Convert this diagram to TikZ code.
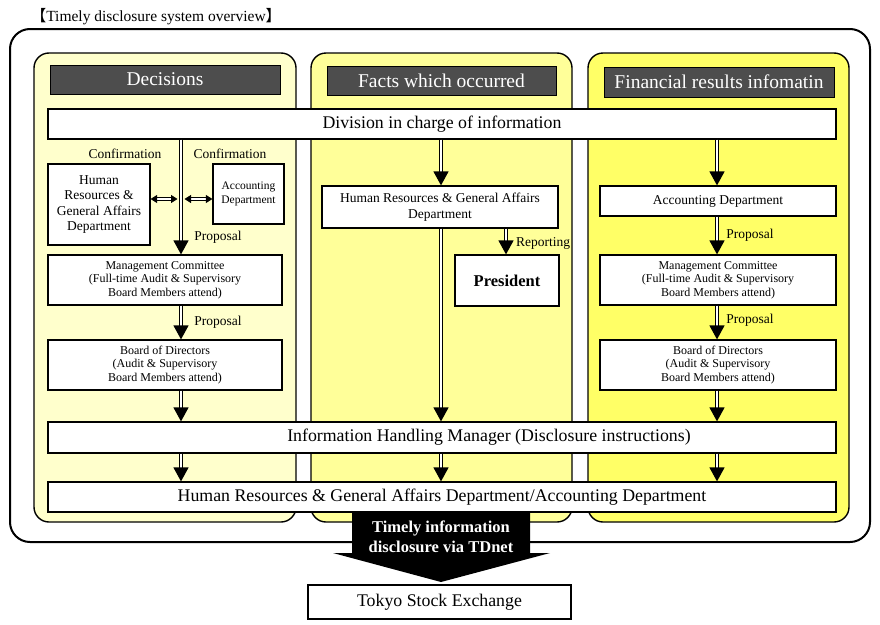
\documentclass[tikz,border=0pt]{standalone}
\usepackage{fontspec}
\setmainfont{Liberation Serif}
\newfontfamily\cjk{Noto Sans CJK JP}
\usetikzlibrary{arrows.meta,calc}
\definecolor{colA}{HTML}{FFFFCC}
\definecolor{colB}{HTML}{FFFF99}
\definecolor{colC}{HTML}{FFFF66}
\definecolor{hdr}{HTML}{4D4D4D}
\begin{document}
\begin{tikzpicture}[x=1pt,y=-1pt,
  column/.style={draw=black, line width=1.4pt, rounded corners=15pt},
  hdrbox/.style={draw=black, line width=0.8pt, fill=hdr, text=white, font=\fontsize{19.5}{21}\selectfont, inner sep=0pt},
  box/.style={draw=black, line width=1.2pt, fill=white, inner sep=1pt, align=center},
  big/.style={font=\fontsize{17.8}{20}\selectfont},
  mid/.style={font=\fontsize{13.5}{15.5}\selectfont},
  small/.style={font=\fontsize{12}{13.5}\selectfont},
  lbl/.style={font=\fontsize{13.5}{15}\selectfont, inner sep=0pt},
  dbl/.style={double distance=1.8pt, line width=1.3pt, -{Triangle[width=15pt,length=14pt]}},
  dbltwo/.style={double distance=1.6pt, line width=0.9pt, {Triangle[width=8pt,length=6.5pt]}-{Triangle[width=8pt,length=6.5pt]}}
]
\useasboundingbox (0,0) rectangle (880,624);
\fill[white] (0,0) rectangle (880,624);

% title
\node[font=\fontsize{15.5}{17}\selectfont, inner sep=0pt] (title) at (156,17) {{\cjk 【}Timely disclosure system overview{\cjk 】}};

% outer frame
\draw[line width=2pt, rounded corners=20pt] (10,29) rectangle (870,542);

% columns
\draw[column, fill=colA] (34,53) rectangle (296,522);
\draw[column, fill=colB] (311,53) rectangle (572,522);
\draw[column, fill=colC] (588,53) rectangle (849,522);

% headers
\node[hdrbox, minimum width=230, minimum height=29] (h1) at (165,79.5) {Decisions};
\node[hdrbox, minimum width=229, minimum height=29] (h2) at (441.5,80.5) {Facts which occurred};
\node[hdrbox, minimum width=230, minimum height=30] (h3) at (719,82) {Financial results infomatin};

% wide boxes
\node[box, big, minimum width=788, minimum height=30] (div) at (442,124) {Division in charge of information};
\node[box, big, minimum width=788, minimum height=31] (ihm) at (442,437.5) {\hspace*{94pt}Information Handling Manager (Disclosure instructions)};
\node[box, big, minimum width=788, minimum height=30] (bot) at (442,497) {Human Resources \& General Affairs Department/Accounting Department};

% left column
\node[box, mid, minimum width=102, minimum height=81] (hr1) at (99,204.5) {Human\\Resources \&\\General Affairs\\Department};
\node[box, font=\fontsize{11.5}{13.5}\selectfont, minimum width=71, minimum height=60] (acc1) at (248.5,194) {Accounting\\Department};
\node[box, small, minimum width=234, minimum height=50] (mc1) at (165,280) {Management Committee\\(Full-time Audit \& Supervisory\\Board Members attend)};
\node[box, small, minimum width=234, minimum height=50] (bd1) at (165,365) {Board of Directors\\(Audit \& Supervisory\\Board Members attend)};

% middle column
\node[box, mid, minimum width=236, minimum height=42] (hr2) at (440,207) {Human Resources \& General Affairs\\Department};
\node[box, font=\bfseries\fontsize{16.5}{18}\selectfont, minimum width=104, minimum height=51] (pres) at (507,280.5) {President};

% right column
\node[box, mid, minimum width=236, minimum height=30] (acc3) at (718,201) {Accounting Department};
\node[box, small, minimum width=236, minimum height=50] (mc3) at (718,280) {Management Committee\\(Full-time Audit \& Supervisory\\Board Members attend)};
\node[box, small, minimum width=236, minimum height=50] (bd3) at (718,365) {Board of Directors\\(Audit \& Supervisory\\Board Members attend)};

% arrow x positions
\coordinate (L) at (181,0);
\coordinate (M) at (441,0);
\coordinate (P) at (506,0);
\coordinate (R) at (717,0);

% left arrows
\draw[dbl] (L |- div.south) -- (L |- mc1.north);
\draw[dbl] (L |- mc1.south) -- (L |- bd1.north);
\draw[dbl] (L |- bd1.south) -- (L |- ihm.north);
\draw[dbl] (L |- ihm.south) -- (L |- bot.north);
\coordinate (cl) at (177.5,199);
\coordinate (cr) at (184.5,199);
\draw[dbltwo] (hr1.east |- cl) -- (cl);
\draw[dbltwo] (cr) -- (acc1.west |- cr);

% middle arrows
\draw[dbl] (M |- div.south) -- (M |- hr2.north);
\draw[dbl] (M |- hr2.south) -- (M |- ihm.north);
\draw[dbl] (P |- hr2.south) -- (P |- pres.north);
\draw[dbl] (M |- ihm.south) -- (M |- bot.north);

% right arrows
\draw[dbl] (R |- div.south) -- (R |- acc3.north);
\draw[dbl] (R |- acc3.south) -- (R |- mc3.north);
\draw[dbl] (R |- mc3.south) -- (R |- bd3.north);
\draw[dbl] (R |- bd3.south) -- (R |- ihm.north);
\draw[dbl] (R |- ihm.south) -- (R |- bot.north);

% labels
\node[lbl] (conf1) at (125,154) {Confirmation};
\node[lbl] (conf2) at (230,154) {Confirmation};
\node[lbl] (prop1) at (218,237) {Proposal};
\node[lbl] (prop2) at (218,322) {Proposal};
\node[lbl] (rep) at (543,243) {Reporting};
\node[lbl] (prop3) at (750,235) {Proposal};
\node[lbl] (prop4) at (750,320) {Proposal};

% big arrow to TSE
\fill[black] (352,512) -- (530,512) -- (530,553) -- (550,553) -- (441,582) -- (333,553) -- (352,553) -- cycle;
\node[text=white, font=\bfseries\fontsize{16.5}{20}\selectfont, align=center, inner sep=0pt] (tdnet) at (441,537) {Timely information\\disclosure via TDnet};

\node[box, big, line width=1.6pt, minimum width=263, minimum height=34] (tse) at (439.5,602) {Tokyo Stock Exchange};
\end{tikzpicture}
\end{document}
